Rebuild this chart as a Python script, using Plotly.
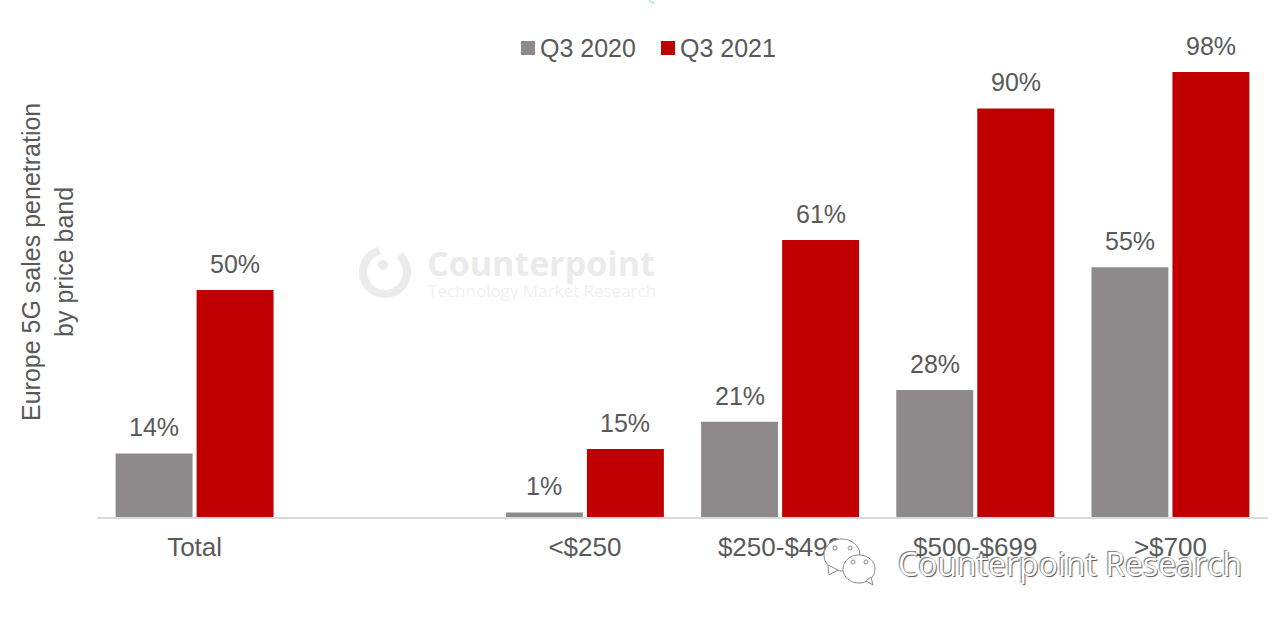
import math
import plotly.graph_objects as go

categories = ["Total", " ", "<$250", "$250-$499", "$500-$699", ">$700"]
series_names = ["Q3 2020", "Q3 2021"]
q3_2020 = [14, None, 1, 21, 28, 55]
q3_2021 = [50, None, 15, 61, 90, 98]
colors = ["#8e8a8b", "#c00000"]
axis_title = "Europe 5G sales penetration<br>by price band"
watermark_main = "Counterpoint"
watermark_sub = "Technology Market Research"
wechat_text = "Counterpoint Research"

W, H = 1280, 622
L, R, T, B = 97, 12, 63, 105
TEXT = "#595959"
FONT = "Liberation Sans, Arial, sans-serif"
BARGAP, GROUPGAP = 0.17, 0.05


def px(x):
    return (x - L) / (W - L - R)


def py(y):
    return 1 - (y - T) / (H - T - B)


def ellipse_path(cx, cy, rx, ry, a0=0, a1=360, n=48):
    pts = []
    for i in range(n + 1):
        a = math.radians(a0 + (a1 - a0) * i / n)
        pts.append((cx + rx * math.cos(a), cy + ry * math.sin(a)))
    return pts


def to_path(pts, close=False):
    s = "M" + " L".join(f"{px(x):.5f},{py(y):.5f}" for x, y in pts)
    return s + (" Z" if close else "")


def page_text(x, y, text, font, xanchor="left", **kw):
    return dict(x=px(x), y=py(y), xref="paper", yref="paper", text=text, showarrow=False,
                xanchor=xanchor, yanchor="middle", font=font, **kw)


fig = go.Figure()
for name, vals, col in zip(series_names, [q3_2020, q3_2021], colors):
    fig.add_bar(x=categories, y=vals, name=name, marker=dict(color=col, line_width=0),
                showlegend=False, cliponaxis=False)

annotations = []
slot = (1 - BARGAP) / 2
for offs, vals in zip([-slot / 2, slot / 2], [q3_2020, q3_2021]):
    for i, v in enumerate(vals):
        if v is None:
            continue
        annotations.append(dict(x=i + offs, y=v, xref="x", yref="y", text=f"{v}%", showarrow=False,
                                xanchor="center", yanchor="bottom", yshift=10,
                                font=dict(family=FONT, size=25, color=TEXT)))

annotations.append(page_text(47, 262, axis_title, dict(family=FONT, size=25, color=TEXT),
                             xanchor="center", textangle=-90, align="center"))

# legend drawn to the reference's tight swatch spacing
shapes = []
for name, col, sx in zip(series_names, colors, [521, 661]):
    shapes.append(dict(type="rect", xref="paper", yref="paper", x0=px(sx), x1=px(sx + 14),
                       y0=py(55), y1=py(41), fillcolor=col, line_width=0))
    annotations.append(page_text(sx + 17, 48, name, dict(family=FONT, size=25, color=TEXT)))

# faint logo watermark
mark = "#ebebeb"
shapes.append(dict(type="path", xref="paper", yref="paper", layer="above",
                   path=to_path(ellipse_path(385, 272, 22, 22, -50, 255)),
                   line=dict(color=mark, width=8)))
shapes.append(dict(type="path", xref="paper", yref="paper", layer="above",
                   path=to_path(ellipse_path(383, 265, 5, 5), True), fillcolor=mark, line_width=0))
annotations.append(page_text(425, 263, watermark_main,
                             dict(family="Open Sans, sans-serif", size=34, color=mark, weight=700)))
annotations.append(page_text(426, 290, watermark_sub,
                             dict(family="Open Sans, sans-serif", size=17, color="#f1f1f1")))

# WeChat bubbles and hollow caption
bubble = "#8a8a8a"
for cx, cy, rx, ry, tail in [(842, 555, 18, 16, [(828, 565), (829, 575), (838, 570)]),
                             (859, 569, 16, 14, [(866, 581), (873, 585), (871, 577)])]:
    shapes.append(dict(type="path", xref="paper", yref="paper", layer="above",
                       path=to_path(ellipse_path(cx, cy, rx, ry), True), fillcolor="white",
                       line=dict(color=bubble, width=1)))
    shapes.append(dict(type="path", xref="paper", yref="paper", layer="above",
                       path=to_path(tail, True), fillcolor="white", line=dict(color=bubble, width=1)))
for cx, cy in [(835, 548), (850, 548), (853, 562), (866, 562)]:
    shapes.append(dict(type="circle", xref="paper", yref="paper", layer="above",
                       x0=px(cx - 2), x1=px(cx + 2), y0=py(cy + 2), y1=py(cy - 2),
                       fillcolor="white", line=dict(color=bubble, width=1)))
annotations.append(page_text(896, 563, wechat_text,
                             dict(family="Open Sans, sans-serif", size=32, color="white",
                                  shadow="1px 1px 1px #555555, -1px -1px 1px #777777")))

# small cyan speck at the top edge
shapes.append(dict(type="path", xref="paper", yref="paper",
                   path=to_path([(649, 0), (651, 2), (654, 3)]), line=dict(color="#7cc8e8", width=1)))

fig.update_layout(
    width=W, height=H, margin=dict(l=L, r=R, t=T, b=B, pad=0), autosize=False,
    paper_bgcolor="white", plot_bgcolor="white", barmode="group",
    bargap=BARGAP, bargroupgap=GROUPGAP, showlegend=False,
    annotations=annotations, shapes=shapes,
    xaxis=dict(type="category", categoryorder="array", categoryarray=categories, range=[-0.5, 5.5],
               tickfont=dict(family=FONT, size=26, color=TEXT), showline=True, linecolor="#d9d9d9", linewidth=2,
               ticks="outside", ticklen=6, tickcolor="rgba(0,0,0,0)", showgrid=False, zeroline=False),
    yaxis=dict(range=[0, 100], visible=False, showgrid=False, zeroline=False),
)
fig.write_html("out.html", config={"displayModeBar": False}, post_script="document.body.style.margin='0';")
